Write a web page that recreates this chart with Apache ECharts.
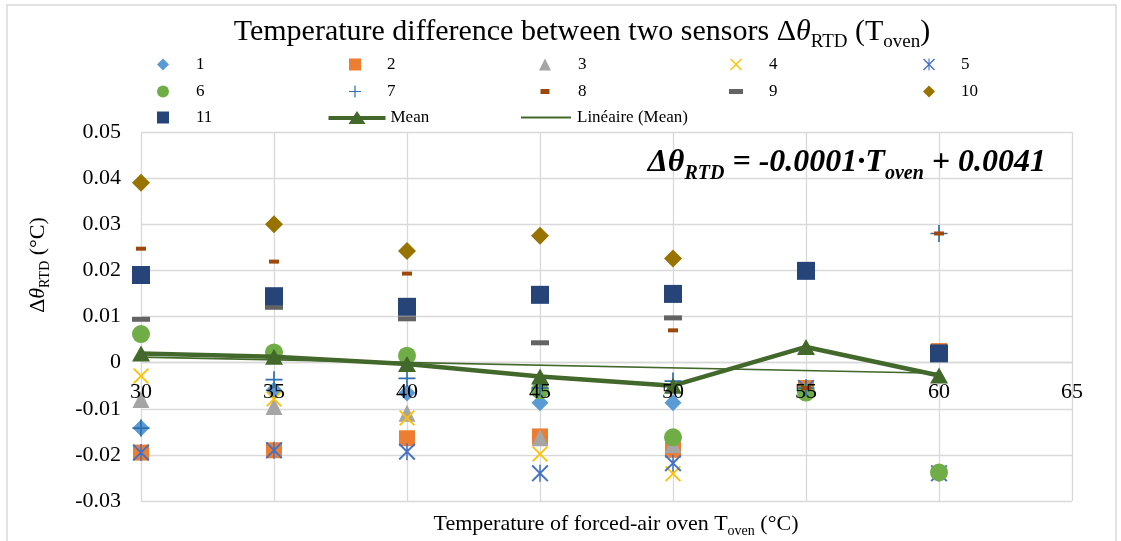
<!DOCTYPE html>
<html><head><meta charset="utf-8">
<script src="https://cdn.jsdelivr.net/npm/echarts@6/dist/echarts.min.js"></script>
<style>html,body{margin:0;padding:0;background:#fff}#c{width:1121px;height:541px}</style>
</head><body><div id="c"></div>
<script>
// ---------- DATA ----------
const temps = [30, 35, 40, 45, 50, 55, 60];
const xMin = 30, xMax = 65, xStep = 5;
const yMin = -0.03, yMax = 0.05, yStep = 0.01;
const seriesNames = ['1','2','3','4','5','6','7','8','9','10','11'];
const s1  = [-0.0142, -0.0060, -0.0066, -0.0087, -0.0087, -0.0058, null];
const s2  = [-0.0195, -0.0190, -0.0164, -0.0160, -0.0189, -0.0055, 0.0025];
const s3  = [-0.0080, -0.0095, -0.0110, -0.0163, -0.0178, null, null];
const s4  = [-0.0029, -0.0079, -0.0120, -0.0198, -0.0241, null, null];
const s5  = [-0.0195, -0.0190, -0.0193, -0.0240, -0.0218, -0.0055, -0.0240];
const s6  = [0.0062, 0.0022, 0.0015, -0.0060, -0.0162, -0.0065, -0.0238];
const s7  = [-0.0142, -0.0037, -0.0034, -0.0055, -0.0040, -0.0055, 0.0280];
const s8  = [0.0247, 0.0219, 0.0193, null, 0.0070, -0.0055, 0.0280];
const s9  = [0.0094, 0.0120, 0.0095, 0.0043, 0.0097, null, null];
const s10 = [0.0390, 0.0300, 0.0242, 0.0275, 0.0226, null, null];
const s11 = [0.0190, 0.0144, 0.0121, 0.0147, 0.0149, 0.0199, 0.0020];
const meanName = 'Mean';
const meanValues = [0.0020, 0.0013, -0.0003, -0.0030, -0.0050, 0.0034, -0.0028];
const trendName = 'Linéaire (Mean)';
const trendX = [30, 60];
const trendY = [0.0012, -0.0023];

// ---------- STYLE ----------
const FONT = '"Liberation Serif","Times New Roman",serif';
const GREEN = '#43682B';
const EQ_GREEN = '#4A7030';
const GRID = '#d9d9d9';
const P_X = 'path://M0,1.6 L1.6,0 L10,8.4 L18.4,0 L20,1.6 L11.6,10 L20,18.4 L18.4,20 L10,11.6 L1.6,20 L0,18.4 L8.4,10 Z';
const P_AST = 'path://M0,1.6 L1.6,0 L10,8.4 L18.4,0 L20,1.6 L11.6,10 L20,18.4 L18.4,20 L10,11.6 L1.6,20 L0,18.4 L8.4,10 Z M9.1,0 L10.9,0 L10.9,20 L9.1,20 Z';
const P_PLUS = 'path://M9,0 L11,0 L11,9 L20,9 L20,11 L11,11 L11,20 L9,20 L9,11 L0,11 L0,9 L9,9 Z';
const P_MEAN_ICON = 'path://M0,5 L25.2,5 L28.5,0 L31.8,5 L57,5 L57,9 L34.4,9 L37,13 L20,13 L22.6,9 L0,9 Z';
const markStyles = [
  {symbol: 'diamond', size: 17, color: '#5B9BD5'},
  {symbol: 'rect', size: 16, color: '#ED7D31'},
  {symbol: 'triangle', size: 17, color: '#A5A5A5'},
  {symbol: P_X, size: 16, color: '#FFC000'},
  {symbol: P_AST, size: 17, color: '#4472C4'},
  {symbol: 'circle', size: 18, color: '#70AD47'},
  {symbol: P_PLUS, size: 17, color: '#2E6FB0'},
  {symbol: 'rect', size: [10, 4], color: '#9E480E'},
  {symbol: 'rect', size: [18, 5], color: '#636363'},
  {symbol: 'diamond', size: 18, color: '#997300'},
  {symbol: 'rect', size: 18, color: '#264478'}
];
const sensorData = [s1, s2, s3, s4, s5, s6, s7, s8, s9, s10, s11];

const series = sensorData.map((arr, i) => ({
  type: 'scatter',
  name: seriesNames[i],
  xAxisIndex: 0,
  data: temps.map((t, j) => [t, arr[j]]).filter(p => p[1] !== null),
  symbol: markStyles[i].symbol,
  symbolSize: markStyles[i].size,
  itemStyle: {color: markStyles[i].color, opacity: 1},
  z: 2
}));
series.push({
  type: 'line', name: meanName, xAxisIndex: 0,
  data: temps.map((t, j) => [t, meanValues[j]]),
  symbol: 'triangle', symbolSize: [18, 16], showSymbol: true,
  lineStyle: {color: GREEN, width: 4.5},
  itemStyle: {color: GREEN},
  z: 3
});
series.push({
  type: 'line', name: trendName, xAxisIndex: 0,
  data: trendX.map((t, j) => [t, trendY[j]]),
  symbol: 'none',
  lineStyle: {color: GREEN, width: 1.6},
  itemStyle: {color: GREEN},
  z: 4
});

// legend layout: [name, centerX, rowY, iconW, iconH, labelX, icon]
const legendLayout = [
  ['1', 163, 63, 12, 12, 196], ['2', 355, 63, 12, 12, 387], ['3', 545, 63, 12, 12, 578], ['4', 736, 63, 12, 12, 769], ['5', 929, 63, 12, 12, 961],
  ['6', 163, 90, 12, 12, 196], ['7', 355, 90, 12, 12, 387], ['8', 545, 90, 9, 5, 578], ['9', 736, 90, 14, 5, 769], ['10', 929, 90, 12, 12, 961],
  ['11', 163, 116, 12, 12, 196], [meanName, 357, 116, 57, 14, 388, P_MEAN_ICON], [trendName, 546, 116, 50, 2, 577, 'rect']
];
const legends = legendLayout.map(([name, cx, cy, w, h, lx, icon]) => {
  const left = cx - w / 2;
  const pad = Math.max(0, lx - (left + w + 5));
  const item = icon ? {name: name, icon: icon} : name;
  return {
    data: [item], left: left, top: cy - 7, itemWidth: w, itemHeight: h,
    padding: 0, selectedMode: false, orient: 'horizontal',
    textStyle: {fontFamily: FONT, fontSize: 17, color: '#000', padding: [0, 0, 0, pad]}
  };
});

function subRich(F, color, extra) {
  const L = Math.round(F * 1.3);
  const base = Object.assign({fontFamily: FONT, color: color, lineHeight: L}, extra || {});
  return {
    n: Object.assign({}, base, {fontSize: F}),
    i: Object.assign({}, base, {fontSize: F, fontStyle: 'italic'}),
    s: Object.assign({}, base, {fontSize: Math.round(F * 0.62), verticalAlign: 'bottom'})
  };
}

// x labels sit on the zero line as in the reference
const gridTop = 132, gridBottom = 40, chartH = 541;
const plotH = chartH - gridTop - gridBottom;
const zeroOffset = plotH * (0 - yMin) / (yMax - yMin);

const chart = echarts.init(document.getElementById('c'));
chart.setOption({
  animation: false,
  backgroundColor: '#fff',
  grid: {left: 141, right: 49, top: gridTop, bottom: gridBottom, containLabel: false},
  legend: legends,
  xAxis: [
    { // grid lines (behind marks)
      type: 'value', min: xMin, max: xMax, interval: xStep,
      position: 'bottom', offset: -zeroOffset, z: 0,
      axisLine: {show: true, onZero: false, lineStyle: {color: GRID, width: 1.3}},
      axisTick: {show: false},
      axisLabel: {show: false},
      splitLine: {show: true, lineStyle: {color: GRID, width: 1.3}}
    },
    { // tick labels (in front of marks)
      type: 'value', min: xMin, max: xMax, interval: xStep,
      position: 'bottom', offset: -zeroOffset, z: 20,
      axisLine: {show: false, onZero: false},
      axisTick: {show: false},
      axisLabel: {fontFamily: FONT, fontSize: 22, color: '#000', margin: 19},
      splitLine: {show: false}
    }
  ],
  yAxis: {
    type: 'value', min: yMin, max: yMax, interval: yStep,
    axisLine: {show: false}, axisTick: {show: false},
    axisLabel: {fontFamily: FONT, fontSize: 22, color: '#000', margin: 20,
      formatter: v => Math.abs(v) < 1e-9 ? '0' : v.toFixed(2)},
    splitLine: {show: true, lineStyle: {color: GRID, width: 1.3}}
  },
  series: series,
  graphic: [
    {type: 'rect', silent: true, z: 1, shape: {x: 7, y: 5, width: 1109, height: 600},
      style: {fill: 'none', stroke: GRID, lineWidth: 1.5}},
    {type: 'text', silent: true, z: 100, x: 582, y: 32,
      style: {text: '{n|Temperature difference between two sensors Δ}{i|θ}{s|RTD}{n| (T}{s|oven}{n|)}',
        rich: subRich(30, '#000'), align: 'center', verticalAlign: 'middle'}},
    {type: 'text', silent: true, z: 100, x: 616, y: 524,
      style: {text: '{n|Temperature of forced-air oven T}{s|oven}{n| (°C)}',
        rich: subRich(22, '#000'), align: 'center', verticalAlign: 'middle'}},
    {type: 'text', silent: true, z: 100, x: 38, y: 265, rotation: Math.PI / 2,
      style: {text: '{n|Δ}{i|θ}{s|RTD}{n| (°C)}',
        rich: subRich(22, '#000'), align: 'center', verticalAlign: 'middle'}},
    {type: 'text', silent: true, z: 100, x: 1046, y: 163,
      style: {text: '{n|Δθ}{s|RTD}{n| = -0.0001·T}{s|oven}{n| + 0.0041}',
        rich: subRich(32, EQ_GREEN, {fontWeight: 'bold', fontStyle: 'italic'}), align: 'right', verticalAlign: 'middle'}}
  ]
});
</script></body></html>
